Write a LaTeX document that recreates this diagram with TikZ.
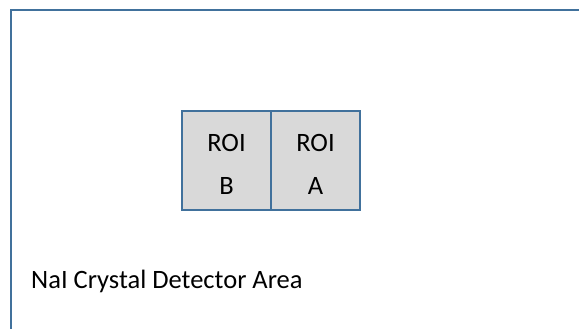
\documentclass[tikz,border=0pt]{standalone}
\usepackage{fontspec}
\setmainfont{Carlito}
\definecolor{frameblue}{HTML}{41719C}
\definecolor{cellgray}{HTML}{D9D9D9}
\begin{document}
\begin{tikzpicture}[x=1pt, y=-1pt,
  roicell/.style={draw=frameblue, line width=1.6pt, fill=cellgray,
    minimum width=89pt, minimum height=99pt, inner sep=0pt},
  roitext/.style={align=center, inner sep=0pt, yshift=-4pt,
    font=\fontsize{26.5}{43}\selectfont},
  areatext/.style={font=\fontsize{26.5}{31}\selectfont, anchor=base west, inner sep=0pt}]
  \useasboundingbox (0,0) rectangle (579,329);
  \clip (0,0) rectangle (579,329);
  % detector outline (runs past the right and bottom edges)
  \draw[frameblue, line width=1.8pt] (11,10) rectangle (600,350);
  % regions of interest
  \node[roicell, label={[roitext]center:{ROI\\B}}] (roib) at (226.5,160.5) {};
  \node[roicell, label={[roitext]center:{ROI\\A}}] (roia) at (315.5,160.5) {};
  \node[areatext] (area) at (31,288) {NaI Crystal Detector Area};
\end{tikzpicture}
\end{document}
